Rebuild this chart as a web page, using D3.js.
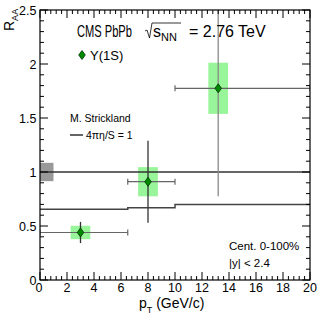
<!doctype html>
<html lang="en">
<head>
<meta charset="UTF-8">
<script src="https://d3js.org/d3.v7.min.js"></script>
<style>
  body { margin: 0; background: #fff; }
  text { font-family: "Liberation Sans", Arial, sans-serif; fill: #000; }
</style>
</head>
<body>
<svg width="332" height="319"></svg>
<script>
// Upsilon(1S) points
var pt = [3.0, 8.0, 13.2];
var ptLo = [0, 6.5, 10];
var ptHi = [6.5, 10, 20];
var raa = [0.44, 0.91, 1.775];
var statErr = [0.098, 0.38, 1.0];
var sysErr = [0.062, 0.135, 0.237];
var boxHalf = 0.73;
var globalErr = 0.085;

// Strickland curve (4 pi eta / S = 1), step per bin
var theoryEdges = [0, 6.5, 10, 20];
var theoryVals = [0.655, 0.67, 0.70];

var xMajor = d3.range(0, 20.01, 2);
var xMinor = d3.range(0, 20.01, 0.4);
var yMajor = [0, 0.5, 1, 1.5, 2, 2.5];
var yMinor = d3.range(0, 2.501, 0.1);

var svg = d3.select("svg");
var L = 40, R = 310, T = 10, B = 280;
var x = d3.scaleLinear().domain([0, 20]).range([L, R]);
var y = d3.scaleLinear().domain([0, 2.5]).range([B, T]);

svg.append("defs").append("clipPath").attr("id", "clip")
  .append("rect").attr("x", L).attr("y", T).attr("width", R - L).attr("height", B - T);
var plot = svg.append("g").attr("clip-path", "url(#clip)");

// global uncertainty box
plot.append("rect")
  .attr("x", x(0)).attr("width", x(1) - x(0))
  .attr("y", y(1 + globalErr)).attr("height", y(1 - globalErr) - y(1 + globalErr))
  .attr("fill", "#999");

// systematic boxes
plot.selectAll("rect.sys").data(pt).enter().append("rect")
  .attr("class", "sys")
  .attr("x", function (d) { return x(d - boxHalf); })
  .attr("width", x(2 * boxHalf) - x(0))
  .attr("y", function (d, i) { return y(raa[i] + sysErr[i]); })
  .attr("height", function (d, i) { return y(raa[i] - sysErr[i]) - y(raa[i] + sysErr[i]); })
  .attr("fill", "#99f599");

// R_AA = 1 line
plot.append("line")
  .attr("x1", x(0)).attr("x2", x(20)).attr("y1", y(1)).attr("y2", y(1))
  .attr("stroke", "#333").attr("stroke-width", 1.3);

// theory steps
var steps = [];
theoryVals.forEach(function (v, i) {
  steps.push([theoryEdges[i], v]);
  steps.push([theoryEdges[i + 1], v]);
});
plot.append("path")
  .attr("d", d3.line().x(function (d) { return x(d[0]); }).y(function (d) { return y(d[1]); })(steps))
  .attr("fill", "none").attr("stroke", "#444").attr("stroke-width", 1.5);

// horizontal bin errors
plot.selectAll("line.xerr").data(pt).enter().append("line")
  .attr("x1", function (d, i) { return x(ptLo[i]); })
  .attr("x2", function (d, i) { return x(ptHi[i]); })
  .attr("y1", function (d, i) { return y(raa[i]); })
  .attr("y2", function (d, i) { return y(raa[i]); })
  .attr("stroke", "#666").attr("stroke-width", 1.2);
plot.selectAll("line.xcap").data(pt.concat(pt)).enter().append("line")
  .attr("x1", function (d, i) { return x(i < 3 ? ptLo[i] : ptHi[i - 3]); })
  .attr("x2", function (d, i) { return x(i < 3 ? ptLo[i] : ptHi[i - 3]); })
  .attr("y1", function (d, i) { return y(raa[i % 3]) - 3; })
  .attr("y2", function (d, i) { return y(raa[i % 3]) + 3; })
  .attr("stroke", "#666").attr("stroke-width", 1.2);

// vertical stat errors
plot.selectAll("line.yerr").data(pt).enter().append("line")
  .attr("x1", function (d) { return x(d); })
  .attr("x2", function (d) { return x(d); })
  .attr("y1", function (d, i) { return y(raa[i] + statErr[i]); })
  .attr("y2", function (d, i) { return y(raa[i] - statErr[i]); })
  .attr("stroke", function (d, i) { return i == 2 ? "#888" : "#333"; })
  .attr("stroke-width", 1.3);

function diamond(cx, cy) {
  return "M" + cx + "," + (cy - 4.5) + "L" + (cx + 3.3) + "," + cy +
    "L" + cx + "," + (cy + 4.5) + "L" + (cx - 3.3) + "," + cy + "Z";
}
plot.selectAll("path.pt").data(pt).enter().append("path")
  .attr("d", function (d, i) { return diamond(x(d), y(raa[i])); })
  .attr("fill", "#008a00").attr("stroke", "#003300").attr("stroke-width", 0.8);

// frame and ticks
svg.append("rect").attr("x", L).attr("y", T).attr("width", R - L).attr("height", B - T)
  .attr("fill", "none").attr("stroke", "#000").attr("stroke-width", 1.2);

var ticks = svg.append("g").attr("stroke", "#000").attr("stroke-width", 1);
xMinor.forEach(function (v) {
  var major = Math.abs(v / 2 - Math.round(v / 2)) < 1e-6;
  var len = major ? 8 : 4;
  ticks.append("line").attr("x1", x(v)).attr("x2", x(v)).attr("y1", B).attr("y2", B - len);
  ticks.append("line").attr("x1", x(v)).attr("x2", x(v)).attr("y1", T).attr("y2", T + len);
});
yMinor.forEach(function (v) {
  var major = Math.abs(v / 0.5 - Math.round(v / 0.5)) < 1e-6;
  var len = major ? 8 : 4;
  ticks.append("line").attr("x1", L).attr("x2", L + len).attr("y1", y(v)).attr("y2", y(v));
  ticks.append("line").attr("x1", R).attr("x2", R - len).attr("y1", y(v)).attr("y2", y(v));
});

svg.selectAll("text.xt").data(xMajor).enter().append("text")
  .attr("x", function (d) { return x(d) - (d === 0 ? 1 : 0); }).attr("y", 292)
  .attr("text-anchor", "middle").attr("font-size", 12.5)
  .text(function (d) { return d; });
svg.selectAll("text.yt").data(yMajor).enter().append("text")
  .attr("x", 36.5).attr("y", function (d) { return y(d) + 4.5; })
  .attr("text-anchor", "end").attr("font-size", 12.5)
  .text(function (d) { return d; });

// axis titles
var xt = svg.append("text").attr("x", 139).attr("y", 308).attr("font-size", 14);
xt.append("tspan").text("p");
xt.append("tspan").attr("dy", 5).attr("font-size", 9).text("T");
xt.append("tspan").attr("dy", -5).text(" (GeV/c)");

var yt = svg.append("text").attr("transform", "translate(14,31) rotate(-90)").attr("font-size", 14);
yt.append("tspan").text("R");
yt.append("tspan").attr("dy", 4).attr("font-size", 9).text("AA");

// legend text
svg.append("text").attr("transform", "translate(77,37) scale(0.89,1.25)")
  .attr("font-size", 12.5).text("CMS PbPb");
svg.append("path").attr("d", "M145,31 L147,30 L149.5,38 L152,23 L181,23")
  .attr("fill", "none").attr("stroke", "#000").attr("stroke-width", 0.8);
var st = svg.append("text").attr("x", 153).attr("y", 37).attr("font-size", 16);
st.append("tspan").text("s");
st.append("tspan").attr("dy", 4).attr("font-size", 11).text("NN");
svg.append("text").attr("x", 189).attr("y", 37).attr("font-size", 16).text("= 2.76 TeV");

svg.append("path").attr("d", diamond(82, 55))
  .attr("fill", "#008a00").attr("stroke", "#003300").attr("stroke-width", 0.8);
svg.append("text").attr("x", 90).attr("y", 59.5).attr("font-size", 13).text("\u03A5(1S)");

svg.append("text").attr("x", 70).attr("y", 122).attr("font-size", 10.5).text("M. Strickland");
svg.append("line").attr("x1", 70).attr("x2", 83).attr("y1", 135).attr("y2", 135)
  .attr("stroke", "#000").attr("stroke-width", 1.2);
svg.append("text").attr("x", 86).attr("y", 138.5).attr("font-size", 10.5).text("4\u03C0\u03B7/S = 1");

svg.append("text").attr("x", 229).attr("y", 250).attr("font-size", 11.5).text("Cent. 0-100%");
svg.append("text").attr("x", 229).attr("y", 267).attr("font-size", 11.5).text("|y| < 2.4");
</script>
</body>
</html>
